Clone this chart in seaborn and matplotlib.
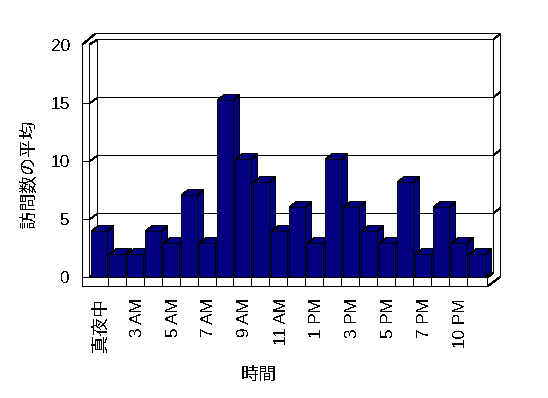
import matplotlib
matplotlib.use("Agg")
import matplotlib.pyplot as plt
import seaborn as sns
from matplotlib.patches import Polygon
from matplotlib.transforms import ScaledTranslation

# Average visits per hour, labels are only shown on every other bar
hours = ['真夜中', '1 AM', '3 AM', '4 AM', '5 AM', '6 AM', '7 AM', '8 AM', '9 AM', '10 AM', '11 AM',
         '12 PM', '1 PM', '2 PM', '3 PM', '4 PM', '5 PM', '6 PM', '7 PM', '9 PM', '10 PM', '11 PM']
visits = [4, 2, 2, 4, 3, 7.1, 3, 15.3, 10.2, 8.2, 4, 6.1, 3, 10.2, 6.1, 4, 3, 8.2, 2, 6.1, 3, 2]
y_ticks = [0, 5, 10, 15, 20]

W, H = 548, 398
LEFT, RIGHT = 82, 487     # front of the floor, pixels
BASE, TOP = 277.3, 45.3   # front pixel rows of 0 and 20
PITCH = 18                # pixels per category
FIRST = 99                # pixel centre of first bar
NAVY = '#000080'
LW = 0.7                  # just under one pixel, so snapping lands on pixel centres

sns.set_theme(style='white')
plt.rcParams['font.family'] = ['Liberation Sans', 'Noto Sans CJK JP']
plt.rcParams['text.antialiased'] = False
plt.rcParams['lines.antialiased'] = False
plt.rcParams['patch.antialiased'] = False

fig = plt.figure(figsize=(W / 100, H / 100), dpi=100)
ax = fig.add_axes([LEFT / W, 1 - BASE / H, (RIGHT - LEFT) / W, (BASE - TOP) / H])

sns.barplot(x=list(range(len(visits))), y=visits, color=NAVY, saturation=1, width=15.3 / PITCH,
            linewidth=0, native_scale=True, ax=ax)

ax.set_xlim((LEFT - FIRST) / PITCH, (RIGHT - FIRST) / PITCH)
ax.set_ylim(0, 20)


# pixel position to data position, for the frame of the fake 3D box
def px(x, y):
    return (x - FIRST) / PITCH, (BASE - y) * 20 / (BASE - TOP)


def line(*points):
    xs, ys = zip(*[px(*p) for p in points])
    ax.plot(xs, ys, color='black', lw=LW, clip_on=False, zorder=1, snap=True)


# walls
line((82, 44), (82, 286), (487, 286), (487, 277.3), (82, 277.3))
line((89, 44), (89, 277.3))
line((82, 44), (95, 33.3), (500.5, 33.3), (500.5, 276), (487, 286))
line((89, 44), (97, 39.3), (493, 39.3), (493, 271.5), (487, 277.3))
line((97, 39.3), (97, 271.5))
line((493, 39.3), (500.5, 33.3))

# gridlines and their ticks on the side walls
for v in y_ticks[:-1]:
    row = BASE - v * (BASE - TOP) / 20
    line((82, row), (89, row), (97, row - 6))
    if v > 0:
        line((97, row - 6), (493, row - 6), (500.5, row - 12))

# floor separators between the label groups
for i in range(1, len(visits)):
    line((FIRST - 9 + i * PITCH - 0.5, 277.3), (FIRST - 9 + i * PITCH - 0.5, 286))

# top and side face of each bar, taken from the seaborn bars
DX = 6.7 / PITCH
DY = 6 * 20 / (BASE - TOP)
INSET_X = 1 / PITCH                # keep the fill inside its outline
INSET_Y = 20 / (BASE - TOP)
for i, bar in enumerate(ax.patches[:len(visits)]):
    x0, x1 = bar.get_x(), bar.get_x() + bar.get_width()
    h = bar.get_height()
    z = 3 + i
    bar.set_zorder(z + 0.2)
    bar.set_clip_on(False)
    # back faces, filled then outlined
    ax.add_patch(Polygon([(x0, h), (x0 + DX, h + DY - INSET_Y), (x1 + DX - INSET_X, h + DY - INSET_Y),
                          (x1 + DX - INSET_X, DY), (x1, 0), (x1, h)],
                         fc=NAVY, ec='none', clip_on=False, zorder=z))
    ax.plot([x0, x0 + DX, x1 + DX, x1 + DX, x1], [h, h + DY, h + DY, DY, 0], color='black', lw=LW,
            clip_on=False, zorder=z + 0.1, snap=True)
    ax.plot([x1, x1 + DX], [h, h + DY], color='black', lw=LW, clip_on=False, zorder=z + 0.1, snap=True)
    # front face outline
    ax.plot([x0, x0, x1, x1, x0], [0, h, h, 0, 0], color='black', lw=LW, clip_on=False, zorder=z + 0.3, snap=True)

for s in ax.spines.values():
    s.set_visible(False)
ax.patch.set_visible(False)

ax.set_yticks(y_ticks)
ax.set_yticklabels([str(v) for v in y_ticks], fontsize=12.5, color='black')
ax.set_xticks(range(0, len(visits), 2))
ax.set_xticklabels(hours[::2], rotation=90, fontsize=12.3, color='black')
ax.get_xticklabels()[0].set_fontsize(13)
ax.tick_params(axis='x', length=0, pad=15)
ax.tick_params(axis='y', length=0, pad=8.5)
# nudge the rotated labels two pixels right
shift = ScaledTranslation(2 / 100, 0, fig.dpi_scale_trans)
for t in ax.get_xticklabels():
    t.set_transform(t.get_transform() + shift)

ax.set_xlabel('')
ax.set_ylabel('')
fig.text(259 / W, 1 - 375 / H, '時間', fontsize=13, color='black', ha='center', va='center')
fig.text(30 / W, 1 - 174.5 / H, '訪問数の平均', fontsize=13, color='black', rotation=90, ha='center', va='center')

fig.savefig('out.png', dpi=100)
